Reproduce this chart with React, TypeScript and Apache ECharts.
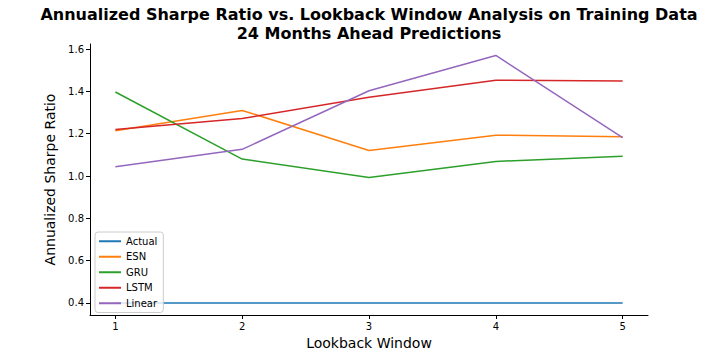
import React, { useEffect, useRef } from "react";
import * as echarts from "echarts";

const lookback = [1, 2, 3, 4, 5];
const actual = [0.4, 0.4, 0.4, 0.4, 0.4];
const esn = [1.214, 1.31, 1.121, 1.193, 1.185];
const gru = [1.397, 1.08, 0.993, 1.069, 1.093];
const lstm = [1.22, 1.272, 1.372, 1.453, 1.449];
const linear = [1.044, 1.126, 1.403, 1.57, 1.182];
const yTicks = [0.4, 0.6, 0.8, 1.0, 1.2, 1.4, 1.6];

const seriesDefs = [
  { name: "Actual", data: actual, color: "#1f77b4" },
  { name: "ESN", data: esn, color: "#ff7f0e" },
  { name: "GRU", data: gru, color: "#2ca02c" },
  { name: "LSTM", data: lstm, color: "#d62728" },
  { name: "Linear", data: linear, color: "#9467bd" },
];

const FONT = "DejaVu Sans";

export default function App() {
  const ref = useRef<HTMLDivElement>(null);
  useEffect(() => {
    if (!ref.current) return;
    const chart = echarts.init(ref.current, undefined, { renderer: "svg" });
    chart.setOption({
      animation: false,
      textStyle: { fontFamily: FONT },
      grid: { left: 90, right: 72, top: 44, bottom: 45, containLabel: false },
      graphic: [
        {
          type: "text",
          x: 369,
          y: 5,
          style: {
            text: "Annualized Sharpe Ratio vs. Lookback Window Analysis on Training Data\n24 Months Ahead Predictions",
            textAlign: "center",
            font: `bold 16px ${FONT}`,
            lineHeight: 19,
            fill: "#000",
          },
        },
      ],
      legend: {
        left: 95,
        top: 232,
        orient: "vertical",
        icon: "rect",
        itemWidth: 22,
        itemHeight: 2,
        itemGap: 3,
        padding: [3, 6, 3, 4],
        backgroundColor: "rgba(255,255,255,0.8)",
        borderColor: "#cccccc",
        borderWidth: 1,
        borderRadius: 3,
        textStyle: { fontFamily: FONT, fontSize: 10, color: "#000", lineHeight: 12.5 },
        data: seriesDefs.map((s) => s.name),
      },
      xAxis: {
        type: "value",
        min: 0.8,
        max: 5.2,
        name: "Lookback Window",
        nameLocation: "middle",
        nameGap: 20,
        nameTextStyle: { fontFamily: FONT, fontSize: 14, color: "#000" },
        axisLine: { show: true, onZero: false, lineStyle: { color: "#000", width: 1 } },
        axisTick: { show: true, length: 4, customValues: lookback, lineStyle: { color: "#000" } },
        axisLabel: { customValues: lookback, fontFamily: FONT, fontSize: 10, color: "#000", margin: 6 },
        splitLine: { show: false },
      },
      yAxis: {
        type: "value",
        min: 0.343,
        max: 1.624,
        name: "Annualized Sharpe Ratio",
        nameLocation: "middle",
        nameGap: 25,
        nameTextStyle: { fontFamily: FONT, fontSize: 14, color: "#000" },
        axisLine: { show: true, onZero: false, lineStyle: { color: "#000", width: 1 } },
        axisTick: { show: true, length: 4, customValues: yTicks, lineStyle: { color: "#000" } },
        axisLabel: {
          customValues: yTicks,
          fontFamily: FONT,
          fontSize: 10,
          color: "#000",
          margin: 6,
          formatter: (v: number) => v.toFixed(1),
        },
        splitLine: { show: false },
      },
      series: seriesDefs.map((s) => ({
        name: s.name,
        type: "line",
        data: lookback.map((x, i) => [x, s.data[i]]),
        showSymbol: false,
        symbol: "none",
        color: s.color,
        lineStyle: { color: s.color, width: 1.5 },
      })),
    });
    return () => chart.dispose();
  }, []);
  return <div ref={ref} style={{ width: 720, height: 360, position: "absolute", left: 0, top: 0 }} />;
}
